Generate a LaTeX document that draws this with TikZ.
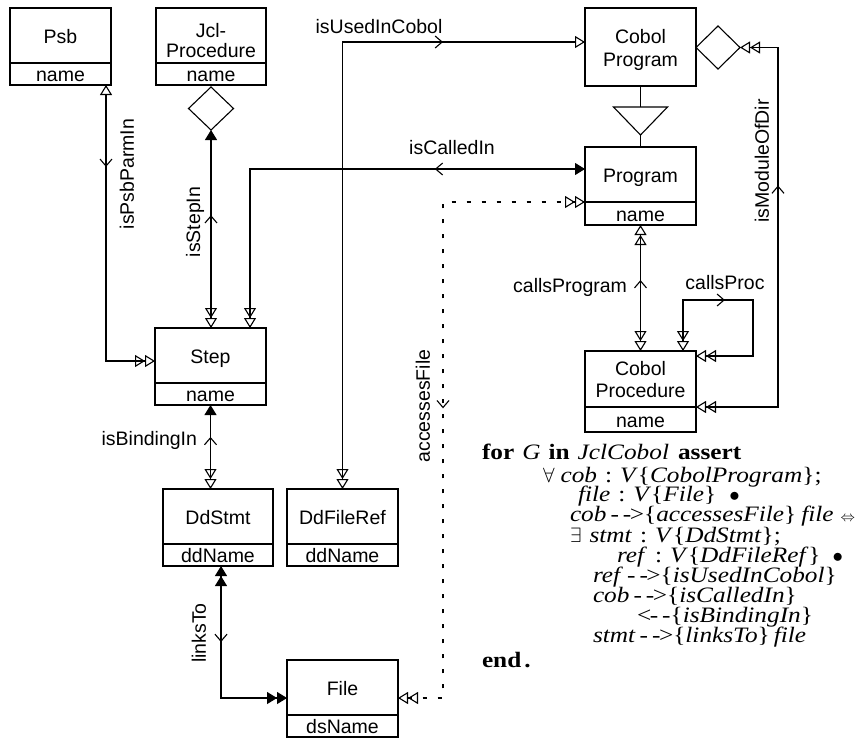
\documentclass[tikz,border=0pt]{standalone}
\usepackage{fontspec}
\setmainfont{Liberation Sans}
\newfontfamily\tms[FakeStretch=1.15]{Liberation Serif}
\usetikzlibrary{arrows.meta,shapes.geometric,decorations.markings,calc}
\newcommand\gto{\textup{-\hspace{4pt}-\hspace{-1.5pt}>}}
\newcommand\gfrom{\textup{<\hspace{-1.5pt}-\hspace{4pt}-}}
\newcommand\gbr[1]{\textup{\{}\textit{#1}\textup{\}}}
\newcommand\giff{{\fontsize{15}{15}\selectfont$\Leftrightarrow$}}
\tikzset{
  ot/.tip={Triangle[open,length=10pt,width=12pt]},
  ft/.tip={Triangle[length=10pt,width=12pt]},
  oo/.tip={Triangle[open,length=10pt,width=12pt]Triangle[open,length=10pt,width=12pt]},
  ff/.tip={Triangle[length=10pt,width=12pt]Triangle[length=10pt,width=12pt]},
}
\begin{document}
\begin{tikzpicture}[x=1pt,y=-1pt,line width=1.1pt,
  every node/.style={inner sep=0pt,outer sep=0pt},
  lbl/.style={font=\fontsize{19.5}{22}\selectfont},
  cls/.style={draw,font=\fontsize{19.5}{22}\selectfont,text height=15pt,text depth=0pt},
  dia/.style={draw,diamond,minimum width=45pt,minimum height=43pt},
  midf/.style={postaction={decorate,decoration={markings,mark=at position #1 with {\arrow{Straight Barb[length=7pt,width=12pt]}}}}},
  midr/.style={postaction={decorate,decoration={markings,mark=at position #1 with {\arrowreversed{Straight Barb[length=7pt,width=12pt]}}}}},
  frm/.style={font=\tms\fontsize{22}{22}\selectfont,anchor=base west,text height=13pt,text depth=3pt}
]
\useasboundingbox (0,0) rectangle (867,740);

% ---- class boxes ----
\node[cls,minimum width=101pt,minimum height=55pt] (psbT) at (60.5,35.5) {Psb};
\node[cls,minimum width=101pt,minimum height=22pt] (psbB) at (60.5,74) {name};

\node[cls,minimum width=110pt,minimum height=55pt] (jclT) at (211,35.5) {};
\node[lbl,align=center,anchor=north,font=\fontsize{19.5}{20}\selectfont] (jclTxt) at (211,23.2) {Jcl-\\Procedure};
\node[cls,minimum width=110pt,minimum height=22pt] (jclB) at (211,74) {name};
\node[dia] (jdia) at (211,108.5) {};

\node[cls,minimum width=111pt,minimum height=78pt] (cobp) at (640.5,47) {};
\node[lbl,align=center,anchor=north,font=\fontsize{19.5}{23}\selectfont] (cobpTxt) at (640.5,29.2) {Cobol\\Program};
\node[dia,minimum width=44pt] (mdia) at (718,47.5) {};

\node[cls,minimum width=111pt,minimum height=55pt] (progT) at (640.5,174.5) {Program};
\node[cls,minimum width=111pt,minimum height=23pt] (progB) at (640.5,213.5) {name};

\node[cls,minimum width=111pt,minimum height=56pt] (cprocT) at (640.5,379) {};
\node[lbl,align=center,anchor=north,font=\fontsize{19.5}{22}\selectfont] (cprocTxt) at (640.5,361.2) {Cobol\\Procedure};
\node[cls,minimum width=111pt,minimum height=25pt] (cprocB) at (640.5,419.5) {name};

\node[cls,minimum width=111pt,minimum height=55pt] (stepT) at (210.5,355.5) {Step};
\node[cls,minimum width=111pt,minimum height=22pt] (stepB) at (210.5,394) {name};

\node[cls,minimum width=110pt,minimum height=55pt] (ddsT) at (218,516.5) {DdStmt};
\node[cls,minimum width=110pt,minimum height=22pt] (ddsB) at (218,555) {ddName};

\node[cls,minimum width=111pt,minimum height=55pt] (ddfT) at (342.5,516.5) {DdFileRef};
\node[cls,minimum width=111pt,minimum height=22pt] (ddfB) at (342.5,555) {ddName};

\node[cls,minimum width=111pt,minimum height=55pt] (fileT) at (342.5,687.5) {File};
\node[cls,minimum width=111pt,minimum height=22pt] (fileB) at (342.5,726) {dsName};

% ---- generalization ----
\coordinate (genTop) at (640.5,107);
\coordinate (genApex) at (640.5,135);
\draw (cobp.south) -- (genTop);
\draw ($(genTop)+(-27,0)$) -- ($(genTop)+(27,0)$) -- (genApex) -- cycle;
\draw (genApex) -- (progT.north);

% ---- connectors ----
\draw[{oo}-{ot},midr=0.748] (stepT.west |- 0,361) -| (psbB.south -| 106,0);
\draw[{ft}-{oo},midr=0.43] (jdia.south) -- (jdia.south |- stepT.north);
\draw[{oo}-{ft},midr=0.696] (250,0 |- stepT.north) |- (progT.west |- 0,169);
\draw[{oo}-{ot},midf=0.794] (ddfT.north) |- (cobp.west |- 0,42);
\draw[{oo}-{oo},midr=0.367] (mdia.east) -- (mdia.east -| 778,0) |- (cprocT.south east);
\draw[{oo}-{oo},midr=0.437] (progB.south) -- (cprocT.north);
\draw[{oo}-{oo},midf=0.397] (cprocT.north -| 683,0) |- (753,300) |- (cprocT.east |- 0,356);
\draw[{ft}-{oo},midr=0.38] (stepB.south) -- (stepB.south |- ddsT.north);
\draw[{ff}-{ff},midf=0.384] (ddsB.south -| 221,0) |- (fileT.west |- 0,698);
\draw[dash pattern=on 4pt off 11pt,{oo}-{oo},midr=0.49] (fileT.east |- 0,698) -- (443,698) |- (progB.north west);

% ---- connector labels ----
\node[lbl,rotate=90] (lPsb) at (127,174) {isPsbParmIn};
\node[lbl,rotate=90] (lStep) at (195,222) {isStepIn};
\node[lbl] (lUsed) at (379,27) {isUsedInCobol};
\node[lbl] (lCalled) at (452,148) {isCalledIn};
\node[lbl,anchor=east] (lCallsProg) at (627,287) {callsProgram};
\node[lbl] (lCallsProc) at (725,283) {callsProc};
\node[lbl,rotate=90] (lMod) at (762,161) {isModuleOfDir};
\node[lbl,anchor=east] (lBind) at (197,440) {isBindingIn};
\node[lbl,rotate=90] (lLinks) at (199,633) {linksTo};
\node[lbl,rotate=90] (lAcc) at (423,406) {accessesFile};

% ---- constraint text ----
\node[frm] (f1) at (482,459) {\textbf{for}\hspace{8pt}\textit{G}\hspace{8pt}\textbf{in}\hspace{8pt}\textit{JclCobol}\hspace{9pt}\textbf{assert}};
\node[frm] (f2) at (543,482) {$\forall$\hspace{6pt}\textit{cob}\hspace{8pt}:\hspace{8pt}\textit{V}\gbr{CobolProgram};};
\node[frm] (f3) at (578,501) {\textit{file}\hspace{8pt}:\hspace{8pt}\textit{V}\gbr{File}\hspace{13pt}$\bullet$};
\node[frm] (f4) at (570,521) {\textit{cob}\hspace{4pt}\gto\gbr{accessesFile}\hspace{5pt}\textit{file}\hspace{7pt}\giff};
\node[frm] (f5) at (570,542) {$\exists$\hspace{8pt}\textit{stmt}\hspace{8pt}:\hspace{8pt}\textit{V}\gbr{DdStmt};};
\node[frm] (f6) at (617,562) {\textit{ref}\hspace{8pt}:\hspace{8pt}\textit{V}\gbr{DdFileRef}\hspace{12pt}$\bullet$};
\node[frm] (f7) at (593,582) {\textit{ref}\hspace{4pt}\gto\gbr{isUsedInCobol}};
\node[frm] (f8) at (593,602) {\textit{cob}\hspace{4pt}\gto\gbr{isCalledIn}};
\node[frm] (f9) at (637,622) {\gfrom\gbr{isBindingIn}};
\node[frm] (f10) at (593,642) {\textit{stmt}\hspace{4pt}\gto\gbr{linksTo}\hspace{4pt}\textit{file}};
\node[frm] (f11) at (482,667) {\textbf{end}\hspace{3pt}\textbf{.}};
\end{tikzpicture}
\end{document}
